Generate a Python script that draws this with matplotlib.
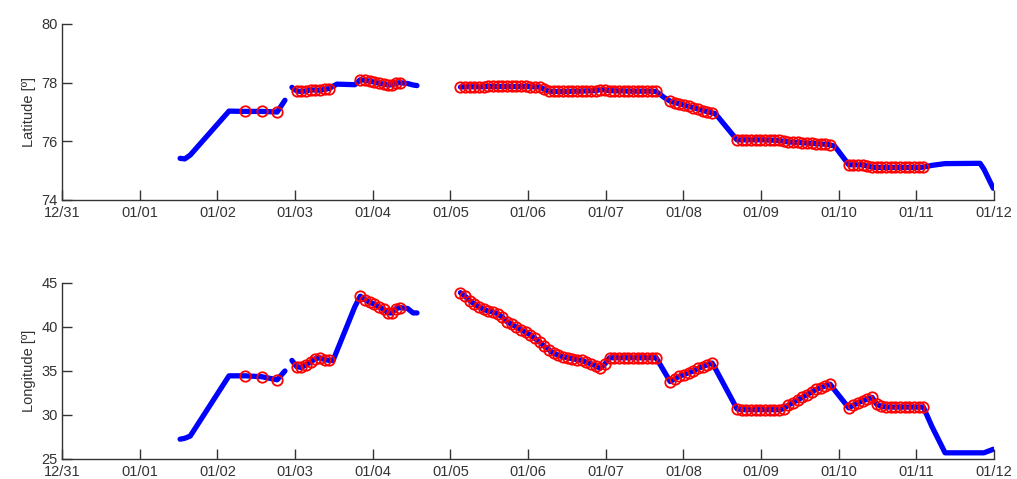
#!/usr/bin/env python3
"""
plot.py

Ship track (latitude / longitude against time) with the matched
observations circled in red, drawn in the old matlab style.
"""

from datetime import datetime
import numpy as np
import matplotlib
matplotlib.use('Agg')
import matplotlib.pyplot as plt
import matplotlib.dates as mdates

START = datetime(2013, 12, 31)
nan = np.nan

# time in days since 31/12 00:00 (nan rows break the line)
t_days = [1.52, 1.58, 1.65, 2.15, 2.36, 2.57, 2.77, 2.87,
          nan,
          2.96, 3.02, 3.08, 3.14, 3.20, 3.26, 3.32, 3.38, 3.44, 3.49, 3.54,
          3.77, 3.84, 3.90, 3.96, 4.02, 4.08, 4.14, 4.20, 4.25, 4.30, 4.35,
          4.45, 4.52, 4.57,
          nan,
          5.13, 5.19, 5.25, 5.31, 5.37, 5.43, 5.49, 5.55, 5.61, 5.67, 5.73,
          5.79, 5.85, 5.91, 5.97, 6.03, 6.09, 6.15, 6.21, 6.27, 6.33, 6.39,
          6.45, 6.51, 6.57, 6.63, 6.69, 6.75, 6.81, 6.87, 6.93, 6.99, 7.05,
          7.11, 7.17, 7.23, 7.29, 7.35, 7.41, 7.47, 7.53, 7.59, 7.65, 7.75,
          7.83, 7.89, 7.95, 8.01, 8.07, 8.13, 8.19, 8.25, 8.31, 8.37, 8.41,
          8.69, 8.75, 8.81, 8.87, 8.93, 8.99, 9.05, 9.11, 9.17, 9.23, 9.29,
          9.35, 9.41, 9.47, 9.53, 9.59, 9.65, 9.71, 9.77, 9.83, 9.89, 9.95,
          10.05, 10.13, 10.19, 10.25, 10.31, 10.37, 10.43, 10.49, 10.55,
          10.61, 10.67, 10.73, 10.79, 10.85, 10.91, 10.97, 11.03, 11.09,
          11.20, 11.37, 11.82, 11.87, 11.99]

lat = [75.42, 75.40, 75.53, 77.03, 77.02, 77.02, 77.00, 77.40,
       nan,
       77.84, 77.72, 77.70, 77.72, 77.75, 77.75, 77.74, 77.77, 77.80, 77.88, 77.95,
       77.93, 78.10, 78.08, 78.05, 78.02, 77.98, 77.95, 77.92, 77.93, 77.98, 78.00,
       77.97, 77.92, 77.90,
       nan,
       77.85, 77.86, 77.86, 77.86, 77.86, 77.86, 77.87, 77.87, 77.87, 77.87, 77.87,
       77.87, 77.87, 77.87, 77.87, 77.86, 77.86, 77.85, 77.78, 77.70, 77.70, 77.70,
       77.70, 77.70, 77.71, 77.71, 77.71, 77.72, 77.72, 77.73, 77.76, 77.75, 77.73,
       77.72, 77.72, 77.72, 77.71, 77.71, 77.71, 77.71, 77.71, 77.71, 77.70, 77.50,
       77.37, 77.32, 77.28, 77.23, 77.19, 77.15, 77.10, 77.05, 77.01, 76.97, 76.95,
       76.05, 76.05, 76.05, 76.05, 76.05, 76.05, 76.05, 76.04, 76.04, 76.03, 76.00,
       75.98, 75.97, 75.96, 75.95, 75.94, 75.93, 75.92, 75.91, 75.90, 75.88, 75.83,
       75.48, 75.20, 75.20, 75.20, 75.20, 75.15, 75.12, 75.11, 75.11,
       75.11, 75.11, 75.11, 75.11, 75.11, 75.11, 75.11, 75.11, 75.12,
       75.18, 75.24, 75.25, 75.05, 74.40]

lon = [27.25, 27.35, 27.60, 34.45, 34.45, 34.35, 34.00, 35.00,
       nan,
       36.2, 35.5, 35.4, 35.7, 36.0, 36.4, 36.5, 36.3, 36.2, 36.2, 37.3,
       42.3, 43.5, 43.1, 42.8, 42.6, 42.3, 42.0, 41.6, 41.6, 42.1, 42.2,
       42.1, 41.6, 41.6,
       nan,
       43.9, 43.5, 43.0, 42.6, 42.3, 42.0, 41.8, 41.7, 41.5, 41.1, 40.6,
       40.3, 40.0, 39.7, 39.4, 39.1, 38.7, 38.3, 37.8, 37.4, 37.0, 36.8,
       36.6, 36.5, 36.4, 36.3, 36.2, 36.0, 35.8, 35.6, 35.3, 35.8, 36.5,
       36.5, 36.5, 36.5, 36.5, 36.5, 36.5, 36.5, 36.5, 36.5, 36.5, 35.0,
       33.8, 34.1, 34.4, 34.6, 34.8, 35.0, 35.3, 35.5, 35.7, 35.9, 35.3,
       30.7, 30.6, 30.6, 30.6, 30.6, 30.6, 30.6, 30.6, 30.6, 30.6, 30.7,
       31.1, 31.4, 31.7, 32.0, 32.3, 32.6, 32.9, 33.1, 33.3, 33.5, 32.8,
       31.7, 30.8, 31.1, 31.4, 31.6, 31.8, 32.0, 31.2, 31.0,
       30.9, 30.9, 30.9, 30.9, 30.9, 30.9, 30.9, 30.9, 30.9,
       28.7, 25.7, 25.7, 25.7, 26.1]

# 1 = point has a matched observation (red circle)
matched = [0, 0, 0, 0, 1, 1, 1, 0,
           0,
           0, 1, 1, 1, 1, 1, 1, 1, 1, 0, 0,
           0, 1, 1, 1, 1, 1, 1, 1, 1, 1, 1,
           0, 0, 0,
           0,
           1, 1, 1, 1, 1, 1, 1, 1, 1, 1, 1,
           1, 1, 1, 1, 1, 1, 1, 1, 1, 1, 1,
           1, 1, 1, 1, 1, 1, 1, 1, 1, 1, 1,
           1, 1, 1, 1, 1, 1, 1, 1, 1, 1, 0,
           1, 1, 1, 1, 1, 1, 1, 1, 1, 1, 0,
           1, 1, 1, 1, 1, 1, 1, 1, 1, 1, 1,
           1, 1, 1, 1, 1, 1, 1, 1, 1, 1, 0,
           0, 1, 1, 1, 1, 1, 1, 1, 1,
           1, 1, 1, 1, 1, 1, 1, 1, 1,
           0, 0, 0, 0, 0]

LAT_TICKS = [74, 76, 78, 80]
LON_TICKS = [25, 30, 35, 40, 45]

AXCOL = '#333333'


def style_axes(ax, ylim, yticks, ylabel):
	"""
	Matlab-ish look: no box, ticks pointing inwards, one tick per day
	"""
	ax.spines['top'].set_visible(False)
	ax.spines['right'].set_visible(False)
	for side in ['left', 'bottom']:
		ax.spines[side].set_color(AXCOL)
		ax.spines[side].set_linewidth(1.0)

	x0 = mdates.date2num(START)
	ax.set_xlim(x0, x0 + 12)
	ax.xaxis.set_major_locator(mdates.DayLocator())
	ax.xaxis.set_major_formatter(mdates.DateFormatter('%m/%d'))

	ax.set_ylim(ylim)
	ax.set_yticks(yticks)
	ax.set_ylabel(ylabel, fontsize=10.5, color=AXCOL, labelpad=4)

	ax.tick_params(axis='x', direction='in', length=7, width=1.0, colors=AXCOL,
		       labelsize=10.5, pad=4)
	ax.tick_params(axis='y', direction='in', length=7, width=1.0, colors=AXCOL,
		       labelsize=10.5, pad=3)


def main():

	plt.rcParams['font.family'] = ['Liberation Sans', 'DejaVu Sans']

	x = mdates.date2num(START) + np.array(t_days)
	mask = np.array(matched, dtype=bool)
	lat_arr = np.array(lat)
	lon_arr = np.array(lon)

	fig = plt.figure(figsize=(10.17, 4.79), dpi=100)
	ax1 = fig.add_axes([0.061, 0.5825, 0.9164, 0.3674])
	ax2 = fig.add_axes([0.061, 0.0418, 0.9164, 0.3674])

	for ax, yy, ylim, yticks, label in [(ax1, lat_arr, (74, 80), LAT_TICKS, 'Latitude [º]'),
					    (ax2, lon_arr, (25, 45), LON_TICKS, 'Longitude [º]')]:
		ax.plot(x, yy, '-', color='#0000ff', lw=3.8,
			solid_capstyle='round', solid_joinstyle='round', zorder=2)
		ax.plot(x[mask], yy[mask], 'o', mfc='none', mec='#ff0000',
			mew=1.3, ms=7.5, zorder=3)
		style_axes(ax, ylim, yticks, label)

	fig.savefig('out.png', dpi=100)


if __name__ == '__main__':
	main()
